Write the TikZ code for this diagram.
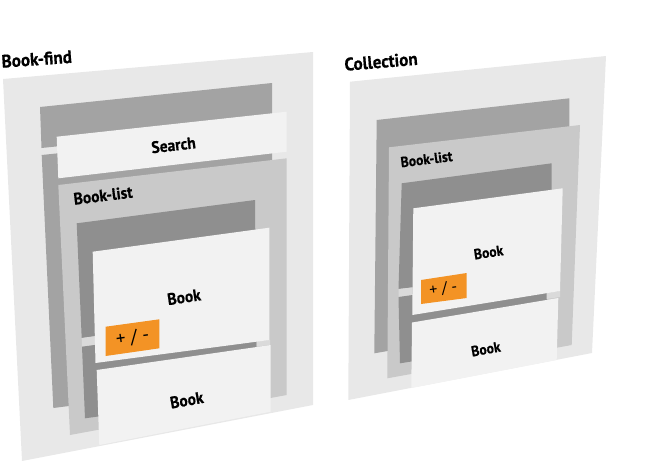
\documentclass[tikz,border=0pt]{standalone}
\usepackage{fontspec}
\setmainfont{PT Sans}[BoldFeatures={FakeBold=0.6}]
\definecolor{panelbg}{HTML}{E8E8E8}
\definecolor{backmid}{HTML}{A3A3A3}
\definecolor{backdark}{HTML}{8F8F8F}
\definecolor{listfront}{HTML}{C9C9C9}
\definecolor{cardfront}{HTML}{F2F2F2}
\definecolor{gapstrip}{HTML}{DADADA}
\definecolor{btnorange}{HTML}{F39325}
\tikzset{
  title/.style={font=\bfseries\fontsize{18}{18}\selectfont, inner sep=0pt},
  lblL/.style={font=\bfseries\fontsize{16.5}{16.5}\selectfont, inner sep=0pt},
  lblR/.style={font=\bfseries\fontsize{14.5}{14.5}\selectfont, inner sep=0pt},
  btnL/.style={font=\fontsize{19}{19}\selectfont, inner sep=0pt},
  btnR/.style={font=\fontsize{16}{16}\selectfont, inner sep=0pt}
}
\begin{document}
\begin{tikzpicture}[x=1pt,y=-1pt]
\useasboundingbox (0,0) rectangle (659,464);
% ---------------- Left group: Book-find ----------------
\fill[panelbg] (3,79) -- (313,52) -- (313,405) -- (22,461) -- cycle;
\fill[backmid] (40,107) -- (272,83) -- (272,124) -- (41.5,148) -- cycle;
\fill[backmid] (41.7,155) -- (272,131) -- (272,380) -- (53.3,408) -- cycle;
\fill[cardfront] (56.7,136.7) -- (286.7,111.7) -- (286.7,151.7) -- (58.3,178.3) -- cycle;
\fill[listfront] (58.3,185) -- (286.7,158.3) -- (286.7,395) -- (70,435) -- cycle;
\fill[backdark] (76.7,223.3) -- (255,200) -- (256,315) -- (81.7,338) -- cycle;
\fill[gapstrip] (81.7,338) -- (96,336) -- (96,345) -- (82,346.7) -- cycle;
\fill[backdark] (82,346.7) -- (256.7,323) -- (256.7,395) -- (85,418.3) -- cycle;
\fill[gapstrip] (256.7,341.5) -- (270,339.8) -- (270,345) -- (256.7,346.5) -- cycle;
\fill[cardfront] (92.7,251.7) -- (269.3,227.7) -- (269.3,340) -- (95.5,363) -- cycle;
\fill[cardfront] (96.7,370) -- (270.7,345) -- (270.7,411.7) -- (99.3,445) -- cycle;
\fill[btnorange] (105.7,326.7) -- (159.3,319.3) -- (159.3,348.3) -- (105.7,356) -- cycle;
\node[title, rotate=4] (bookfind) at (36.7,59) {\scalebox{0.95}[1]{Book-find}};
\node[lblL, rotate=6.5] (search) at (173.5,145) {\scalebox{0.94}[1]{Search}};
\node[lblL, rotate=7, anchor=west] (booklistL) at (73.5,199) {\scalebox{0.94}[1]{Book-list}};
\node[lblL, rotate=8.5] (book1L) at (184,297) {\scalebox{0.94}[1]{Book}};
\node[lblL, rotate=10] (book2L) at (186.7,400) {\scalebox{0.94}[1]{Book}};
\node[btnL, rotate=8] (pmL) at (132.7,337.5) {+ / -};
% ---------------- Right group: Collection ----------------
\fill[panelbg] (350,81.7) -- (606,56) -- (592,353) -- (348.3,400) -- cycle;
\fill[backmid] (376.7,120) -- (569.3,98.3) -- (569,320) -- (374.3,353.3) -- cycle;
\fill[listfront] (389,147.3) -- (580,125) -- (571.7,345) -- (387.3,378.3) -- cycle;
\fill[backdark] (401.7,183.3) -- (551.7,163.3) -- (551,270) -- (398.5,289) -- cycle;
\fill[gapstrip] (398.5,289) -- (412,287.5) -- (412,296) -- (398.5,297) -- cycle;
\fill[backdark] (398.5,297) -- (547,276) -- (547,340) -- (400,363.3) -- cycle;
\fill[gapstrip] (546.7,293) -- (560,291) -- (560,297) -- (546.7,299) -- cycle;
\fill[cardfront] (413.3,208.3) -- (562.7,188.3) -- (560,291) -- (412.3,315) -- cycle;
\fill[cardfront] (412,322.5) -- (558.3,298) -- (556.7,360) -- (411.3,388) -- cycle;
\fill[btnorange] (421,280) -- (466.7,273) -- (466.7,298) -- (421,304) -- cycle;
\node[title, rotate=4.7] (collection) at (381,61.5) {\scalebox{0.95}[1]{Collection}};
\node[lblR, rotate=7, anchor=west] (booklistR) at (400.5,162.3) {\scalebox{0.94}[1]{Book-list}};
\node[lblR, rotate=8.5] (book1R) at (488.5,252.3) {\scalebox{0.94}[1]{Book}};
\node[lblR, rotate=10] (book2R) at (485.8,349) {\scalebox{0.94}[1]{Book}};
\node[btnR, rotate=8] (pmR) at (443.3,289) {+ / -};
\end{tikzpicture}
\end{document}
